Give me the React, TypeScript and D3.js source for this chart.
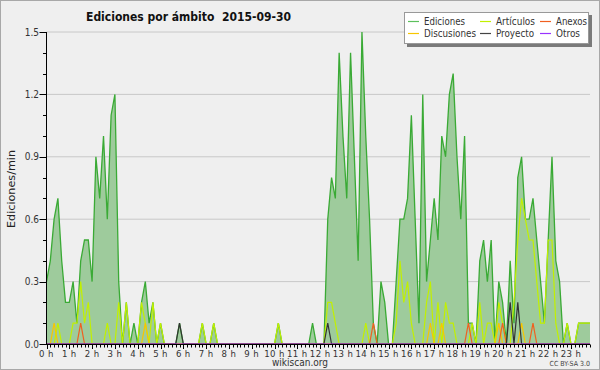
import React from "react";
import * as d3 from "d3";

const hours = d3.range(24).map((h) => `${h} h`);
const yTicks = [0, 0.3, 0.6, 0.9, 1.2, 1.5];

const ediciones = [
  0.3, 0.4, 0.6, 0.7, 0.4, 0.2, 0.2, 0.3, 0.1, 0.4, 0.5, 0.5, 0.3, 0.9, 0.7, 1.0, 0.6, 1.1, 1.2, 0.3,
  0, 0.2, 0, 0.1, 0, 0.2, 0.3, 0.1, 0.2, 0, 0.1, 0, 0, 0, 0, 0.1, 0, 0, 0, 0,
  0, 0.1, 0, 0, 0.1, 0, 0, 0, 0, 0, 0, 0, 0, 0, 0, 0, 0, 0, 0, 0,
  0, 0.1, 0, 0, 0, 0, 0, 0, 0, 0, 0.1, 0, 0, 0, 0.6, 0.8, 0.7, 1.4, 1.0, 0.7,
  1.4, 0.9, 0.4, 1.5, 1.0, 0.6, 0.1, 0, 0.3, 0.2, 0, 0, 0.3, 0.6, 0.6, 0.7, 1.1, 0.6, 0.1, 1.2,
  0.3, 0.5, 0.7, 0.5, 1.0, 0.9, 1.2, 1.3, 0.9, 0.6, 1.0, 0.1, 0.1, 0, 0.4, 0.5, 0.3, 0.5, 0, 0.3,
  0.2, 0, 0.4, 0.1, 0.8, 0.9, 0.6, 0.6, 0.7, 0.5, 0.3, 0.1, 0.5, 0.9, 0.4, 0.3, 0, 0.1, 0, 0,
  0.1, 0.1, 0.1, 0.1,
];

const articulos = [
  0, 0, 0, 0.1, 0, 0, 0, 0.1, 0.1, 0.3, 0.1, 0.2, 0, 0, 0, 0, 0.1, 0, 0, 0.2,
  0, 0.2, 0, 0, 0, 0.2, 0.1, 0, 0.2, 0, 0.1, 0, 0, 0, 0, 0, 0, 0, 0, 0,
  0, 0.1, 0, 0, 0.1, 0, 0, 0, 0, 0, 0, 0, 0, 0, 0, 0, 0, 0, 0, 0,
  0, 0.1, 0, 0, 0, 0, 0, 0, 0, 0, 0, 0, 0, 0, 0.2, 0.2, 0.1, 0, 0, 0,
  0, 0, 0, 0, 0.1, 0, 0, 0, 0, 0, 0, 0, 0.1, 0.4, 0.2, 0.3, 0.1, 0, 0, 0,
  0.2, 0.3, 0, 0.2, 0, 0.2, 0.1, 0.1, 0, 0, 0, 0, 0.1, 0, 0.2, 0, 0.1, 0.1, 0, 0.2,
  0.1, 0, 0, 0.2, 0.5, 0.7, 0.6, 0.5, 0.5, 0.3, 0.1, 0.1, 0.5, 0.5, 0.1, 0, 0, 0.1, 0, 0,
  0.1, 0.1, 0.1, 0.1,
];

const discusionesIdx = [2, 26, 101, 104, 119, 125];
const discusionesVal = [0.1, 0.1, 0.1, 0.1, 0.1, 0.1];
const anexosIdx = [9, 86, 111, 120, 128];
const anexosVal = [0.1, 0.1, 0.1, 0.1, 0.1];
const proyectoIdx = [35, 74, 122, 124];
const proyectoVal = [0.1, 0.1, 0.2, 0.2];

function sparse(idx: number[], val: number[]): number[] {
  const arr = new Array(144).fill(0);
  idx.forEach((i, k) => (arr[i] = val[k]));
  return arr;
}
const discusiones = sparse(discusionesIdx, discusionesVal);
const anexos = sparse(anexosIdx, anexosVal);
const proyecto = sparse(proyectoIdx, proyectoVal);
const otros = new Array(144).fill(0);

const FONT = "'DejaVu Sans Condensed', 'DejaVu Sans', sans-serif";

export default function App() {
  const W = 600, H = 370;
  const x = d3.scaleLinear().domain([0, 143]).range([46.5, 590]);
  const y = d3.scaleLinear().domain([0, 1.5]).range([344, 32]);
  const line = d3.line<number>().x((_, i) => x(i)).y((d) => y(d));
  const area = d3.area<number>().x((_, i) => x(i)).y0(y(0)).y1((d) => y(d));

  const series = [
    { data: articulos, color: "#c2f000" },
    { data: discusiones, color: "#f7c600" },
    { data: anexos, color: "#f06020" },
    { data: proyecto, color: "#333333" },
    { data: otros, color: "#9933ff" },
  ];

  const legend = [
    { label: "Ediciones", color: "#5cc05c", col: 0, row: 0, w: 41 },
    { label: "Artículos", color: "#c2f000", col: 1, row: 0, w: 39 },
    { label: "Anexos", color: "#f06020", col: 2, row: 0, w: 31 },
    { label: "Discusiones", color: "#f7c600", col: 0, row: 1, w: 52 },
    { label: "Proyecto", color: "#444444", col: 1, row: 1, w: 38 },
    { label: "Otros", color: "#9933ff", col: 2, row: 1, w: 24 },
  ];
  const colX = [408, 480, 540];

  const minorY = d3.range(0, 16).map((k) => k / 10);

  return (
    <svg width={W} height={H} style={{ position: "fixed", left: 0, top: 0 }} fontFamily={FONT}>
      <rect x={0.5} y={0.5} width={W - 1} height={H - 1} fill="#efefef" stroke="#a8a8a8" />
      {yTicks.slice(1).map((t) => (
        <line key={t} x1={46.5} x2={590} y1={y(t)} y2={y(t)} stroke="#c8c8c8" strokeWidth={1} />
      ))}
      <path d={area(ediciones) || ""} fill="#9ecb9c" />
      <path d={line(ediciones) || ""} fill="none" stroke="#3aaa35" strokeWidth={1.3} />
      {series.map((s, k) => (
        <path key={k} d={line(s.data) || ""} fill="none" stroke={s.color} strokeWidth={1.2} />
      ))}
      <line x1={46.5} x2={46.5} y1={32} y2={344.5} stroke="#000" />
      <line x1={46} x2={590} y1={344.5} y2={344.5} stroke="#000" />
      {minorY.map((t, k) => (
        <line key={k} x1={k % 3 === 0 ? 39.5 : 43} x2={46.5} y1={Math.round(y(t)) + 0.5} y2={Math.round(y(t)) + 0.5} stroke="#000" />
      ))}
      {yTicks.map((t) => (
        <text key={t} x={39} y={y(t) + 3.5} textAnchor="end" fontSize={10} fill="#333">
          {t.toFixed(1)}
        </text>
      ))}
      {d3.range(0, 144).map((i) => (
        <line key={i} x1={Math.round(x(i)) + 0.5} x2={Math.round(x(i)) + 0.5} y1={344.5} y2={i % 6 === 0 ? 349 : 347.5} stroke="#000" />
      ))}
      {hours.map((h, k) => (
        <text key={h} x={x(k * 6)} y={356.5} textAnchor="middle" fontSize={9.5} fill="#333" letterSpacing={0.4}>
          {h}
        </text>
      ))}
      <text x={86} y={21} fontSize={13} fontWeight="bold" fill="#111" textLength={205} lengthAdjust="spacingAndGlyphs" style={{ whiteSpace: "pre" }}>
        {"Ediciones por ámbito\u00a0\u00a02015-09-30"}
      </text>
      <text transform="translate(15,189) rotate(-90)" textAnchor="middle" fontSize={10} fill="#222" textLength={78} lengthAdjust="spacingAndGlyphs">
        Ediciones/min
      </text>
      <text x={300} y={366} textAnchor="middle" fontSize={10} fill="#333">wikiscan.org</text>
      <text x={590} y={366} textAnchor="end" fontSize={7} fill="#444">CC BY-SA 3.0</text>
      <rect x={407} y={15} width={185} height={32} fill="#7a7a7a" />
      <rect x={404.5} y={12.5} width={184} height={31} fill="#fff" stroke="#999" />
      {legend.map((l) => {
        const lx = colX[l.col];
        const ly = 21.5 + l.row * 12;
        return (
          <g key={l.label}>
            <line x1={lx} x2={lx + 11} y1={ly} y2={ly} stroke={l.color} strokeWidth={1.2} />
            <text x={lx + 16} y={ly + 3.5} fontSize={10} fill="#333" textLength={l.w} lengthAdjust="spacingAndGlyphs">
              {l.label}
            </text>
          </g>
        );
      })}
    </svg>
  );
}
